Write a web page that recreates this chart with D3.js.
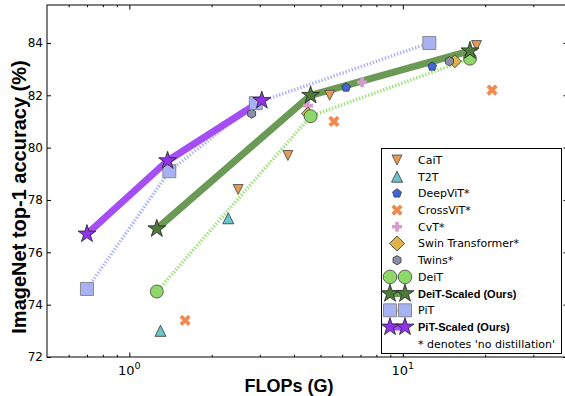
<!DOCTYPE html>
<html>
<head>
<meta charset="utf-8">
<script src="https://cdn.jsdelivr.net/npm/d3@7"></script>
<style>
  body { margin: 0; background: #fff; }
  svg { display: block; }
</style>
</head>
<body>
<div id="chart"></div>
<script>
// values (FLOPs in G, top-1 accuracy in %)
const caitFlops = [2.5, 3.8, 5.4, 18.6];
const caitAcc = [78.4, 79.7, 82.0, 83.9];
const t2tFlops = [1.3, 2.3];
const t2tAcc = [73.0, 77.3];
const deepvitFlops = [6.2, 12.8];
const deepvitAcc = [82.3, 83.1];
const crossvitFlops = [1.6, 5.6, 21.2];
const crossvitAcc = [73.4, 81.0, 82.2];
const cvtFlops = [4.5, 7.1];
const cvtAcc = [81.6, 82.5];
const swinFlops = [4.5, 15.5];
const swinAcc = [81.3, 83.3];
const twinsFlops = [2.8, 14.8];
const twinsAcc = [81.3, 83.3];
const deitFlops = [1.26, 4.6, 17.6];
const deitAcc = [74.5, 81.2, 83.4];
const deitScaledFlops = [1.26, 4.6, 17.6];
const deitScaledAcc = [76.9, 82.0, 83.7];
const pitFlops = [0.7, 1.4, 2.9, 12.5];
const pitAcc = [74.6, 79.1, 81.7, 84.0];
const pitScaledFlops = [0.7, 1.38, 3.05];
const pitScaledAcc = [76.7, 79.5, 81.8];

const yTicks = [72, 74, 76, 78, 80, 82, 84];
const xMajor = [1, 10];
const xMinor = [0.6, 0.7, 0.8, 0.9, 2, 3, 4, 5, 6, 7, 8, 9, 20, 30];

const width = 565;
const height = 396;
const plot = { left: 47, right: 567.5, top: 5, bottom: 357 };

const x = d3.scaleLog().domain([0.5, 40]).range([plot.left, plot.right]);
const y = d3.scaleLinear().domain([72, 85.45]).range([plot.bottom, plot.top]);

const svg = d3.select('#chart').append('svg')
  .attr('width', width)
  .attr('height', height);

// marker shapes, centred on 0,0
function poly(n, r, rot) {
  const pts = d3.range(n).map(i => {
    const a = rot + i * 2 * Math.PI / n;
    return [r * Math.sin(a), -r * Math.cos(a)];
  });
  return 'M' + pts.join('L') + 'Z';
}
function star(R) {
  const pts = d3.range(10).map(i => {
    const r = i % 2 ? R * 0.382 : R;
    const a = i * Math.PI / 5;
    return [r * Math.sin(a), -r * Math.cos(a)];
  });
  return 'M' + pts.join('L') + 'Z';
}
function cross(s, w, rot) {
  const base = [[-w, -s], [w, -s], [w, -w], [s, -w], [s, w], [w, w], [w, s], [-w, s], [-w, w], [-s, w], [-s, -w], [-w, -w]];
  const c = Math.cos(rot), sn = Math.sin(rot);
  const pts = base.map(([px, py]) => [px * c - py * sn, px * sn + py * c]);
  return 'M' + pts.join('L') + 'Z';
}
const shapes = {
  triDown: 'M-5,-5L5,-5L0,5Z',
  triUp: 'M0,-5.5L5.5,5.5L-5.5,5.5Z',
  pentagon: poly(5, 4.6, 0),
  x: cross(6, 1.9, Math.PI / 4),
  plus: cross(5, 1.8, 0),
  diamond: poly(4, 6.5, 0),
  hexagon: poly(6, 4.6, 0),
  square: poly(4, 9.2, Math.PI / 4),
  star: star(9.4)
};

const series = [
  { name: 'CaiT', flops: caitFlops, acc: caitAcc, shape: 'triDown', fill: '#e39a54', stroke: '#444' },
  { name: 'T2T', flops: t2tFlops, acc: t2tAcc, shape: 'triUp', fill: '#6cc5c9', stroke: '#333' },
  { name: 'DeepViT*', flops: deepvitFlops, acc: deepvitAcc, shape: 'pentagon', fill: '#4066d8', stroke: '#333' },
  { name: 'CrossViT*', flops: crossvitFlops, acc: crossvitAcc, shape: 'x', fill: '#f28a4f', stroke: 'none' },
  { name: 'CvT*', flops: cvtFlops, acc: cvtAcc, shape: 'plus', fill: '#d99bcb', stroke: 'none' },
  { name: 'Swin Transformer*', flops: swinFlops, acc: swinAcc, shape: 'diamond', fill: '#dfb24c', stroke: '#333' },
  { name: 'Twins*', flops: twinsFlops, acc: twinsAcc, shape: 'hexagon', fill: '#8a8ea6', stroke: '#333' }
];
const deit = { name: 'DeiT', flops: deitFlops, acc: deitAcc, circle: true, fill: '#8ed86a', stroke: '#444', line: '#95e070', dotted: true };
const deitScaled = { name: 'DeiT-Scaled (Ours)', flops: deitScaledFlops, acc: deitScaledAcc, shape: 'star', fill: '#4e7a3a', stroke: '#222', line: '#6b9a57', bold: true };
const pit = { name: 'PiT', flops: pitFlops, acc: pitAcc, shape: 'square', fill: '#a7b2f2', stroke: '#777', line: '#a5aef5', dotted: true };
const pitScaled = { name: 'PiT-Scaled (Ours)', flops: pitScaledFlops, acc: pitScaledAcc, shape: 'star', fill: '#9132ec', stroke: '#222', line: '#a54ef5', bold: true };

const line = d3.line().x(d => x(d[0])).y(d => y(d[1]));

svg.append('clipPath').attr('id', 'clip')
  .append('rect')
  .attr('x', plot.left).attr('y', plot.top)
  .attr('width', plot.right - plot.left).attr('height', plot.bottom - plot.top);

const g = svg.append('g').attr('clip-path', 'url(#clip)');

function drawLine(s) {
  g.append('path')
    .datum(d3.zip(s.flops, s.acc))
    .attr('d', line)
    .attr('fill', 'none')
    .attr('stroke', s.line)
    .attr('stroke-width', s.dotted ? 3.5 : 7)
    .attr('stroke-dasharray', s.dotted ? '1.3,1.9' : null)
    .attr('stroke-linejoin', 'round');
}
function drawMarkers(s) {
  const pts = d3.zip(s.flops, s.acc);
  if (s.circle) {
    g.selectAll(null).data(pts).join('circle')
      .attr('cx', d => x(d[0])).attr('cy', d => y(d[1]))
      .attr('r', 6.5)
      .attr('fill', s.fill).attr('stroke', s.stroke).attr('stroke-width', 0.8);
  } else {
    g.selectAll(null).data(pts).join('path')
      .attr('transform', d => `translate(${x(d[0])},${y(d[1])})`)
      .attr('d', shapes[s.shape])
      .attr('fill', s.fill).attr('stroke', s.stroke).attr('stroke-width', 0.8);
  }
}

[deit, pit, deitScaled, pitScaled].forEach(drawLine);
series.forEach(drawMarkers);
[deit, pit, deitScaled, pitScaled].forEach(drawMarkers);

// frame
svg.append('rect')
  .attr('x', plot.left).attr('y', plot.top)
  .attr('width', plot.right - plot.left).attr('height', plot.bottom - plot.top)
  .attr('fill', 'none').attr('stroke', '#000').attr('stroke-width', 1);

// axes (ticks point inward)
const axisStyle = sel => {
  sel.select('.domain').remove();
  sel.selectAll('line').attr('stroke', '#000');
  sel.selectAll('text').attr('font-family', 'DejaVu Sans').attr('fill', '#000');
};
svg.append('g').attr('transform', `translate(${plot.left},0)`)
  .call(d3.axisLeft(y).tickValues(yTicks).tickSize(-4).tickPadding(4).tickFormat(d3.format('d')))
  .call(axisStyle)
  .selectAll('text').attr('font-size', 12);
svg.append('g').attr('transform', `translate(${plot.right},0)`)
  .call(d3.axisRight(y).tickValues(yTicks).tickSize(-4).tickFormat(''))
  .call(axisStyle);

[[plot.bottom, d3.axisBottom], [plot.top, d3.axisTop]].forEach(([yy, ax]) => {
  svg.append('g').attr('transform', `translate(0,${yy})`)
    .call(ax(x).tickValues(xMajor).tickSize(-4.5).tickFormat(''))
    .call(axisStyle);
  svg.append('g').attr('transform', `translate(0,${yy})`)
    .call(ax(x).tickValues(xMinor).tickSize(-2.2).tickFormat(''))
    .call(axisStyle);
});

// x tick labels as 10^n
svg.append('g').selectAll('text').data(xMajor).join('text')
  .attr('x', d => x(d))
  .attr('y', 375)
  .attr('text-anchor', 'middle')
  .attr('font-family', 'DejaVu Sans')
  .attr('font-size', 13)
  .each(function(d) {
    const t = d3.select(this);
    t.append('tspan').text('10');
    t.append('tspan').attr('dy', -6).attr('font-size', 9.5).text(Math.round(Math.log10(d)));
  });

// axis titles
svg.append('text')
  .attr('x', 289).attr('y', 392)
  .attr('text-anchor', 'middle')
  .attr('font-family', 'Liberation Sans, Arial, sans-serif')
  .attr('font-weight', 'bold')
  .attr('font-size', 18)
  .text('FLOPs (G)');
svg.append('text')
  .attr('transform', 'translate(26,197) rotate(-90)')
  .attr('text-anchor', 'middle')
  .attr('font-family', 'Liberation Sans, Arial, sans-serif')
  .attr('font-weight', 'bold')
  .attr('font-size', 20)
  .text('ImageNet top-1 accuracy (%)');

// legend
const leg = svg.append('g');
leg.append('rect')
  .attr('x', 381.5).attr('y', 148.5).attr('width', 180).attr('height', 205)
  .attr('fill', '#fff').attr('stroke', '#000').attr('stroke-width', 1);
const legItems = [...series, deit, deitScaled, pit, pitScaled, { name: "* denotes 'no distillation'" }];
const rowY = i => 160 + i * 16.7;
legItems.forEach((s, i) => {
  const row = leg.append('g').attr('transform', `translate(0,${rowY(i)})`);
  if (s.line) {
    row.append('line').attr('x1', 390).attr('x2', 405)
      .attr('stroke', s.line).attr('stroke-width', s.dotted ? 3.5 : 7)
      .attr('stroke-dasharray', s.dotted ? '1.3,1.9' : null);
    [390, 405].forEach(cx => {
      if (s.circle) {
        row.append('circle').attr('cx', cx).attr('r', 6.8)
          .attr('fill', s.fill).attr('stroke', s.stroke).attr('stroke-width', 0.8);
      } else {
        row.append('path').attr('transform', `translate(${cx},0)`).attr('d', shapes[s.shape])
          .attr('fill', s.fill).attr('stroke', s.stroke).attr('stroke-width', 0.8);
      }
    });
  } else if (s.shape) {
    row.append('path').attr('transform', 'translate(397,0)')
      .attr('d', s.shape === 'diamond' ? poly(4, 7.5, 0) : shapes[s.shape])
      .attr('fill', s.fill).attr('stroke', s.stroke).attr('stroke-width', 0.8);
  }
  row.append('text')
    .attr('x', 418).attr('dy', '0.36em')
    .attr('font-family', s.bold ? 'Liberation Sans, Arial, sans-serif' : 'DejaVu Sans')
    .attr('font-size', 11)
    .attr('font-weight', s.bold ? 'bold' : null)
    .text(s.name);
});
</script>
</body>
</html>
